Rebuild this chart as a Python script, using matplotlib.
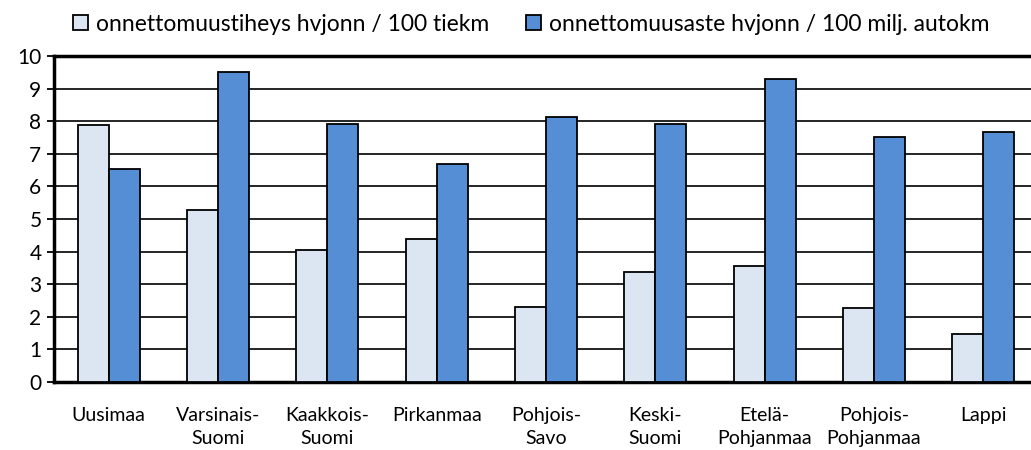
import matplotlib.pyplot as plt
import numpy as np

regions = ["Uusimaa", "Varsinais-\nSuomi", "Kaakkois-\nSuomi", "Pirkanmaa", "Pohjois-\nSavo",
           "Keski-\nSuomi", "Etelä-\nPohjanmaa", "Pohjois-\nPohjanmaa", "Lappi"]
tiheys = [7.87, 5.27, 4.04, 4.39, 2.30, 3.37, 3.57, 2.26, 1.48]
aste = [6.54, 9.50, 7.91, 6.70, 8.12, 7.91, 9.29, 7.52, 7.67]
labels = ["onnettomuustiheys hvjonn / 100 tiekm", "onnettomuusaste hvjonn / 100 milj. autokm"]

plt.rcParams['font.family'] = ['Lato', 'DejaVu Sans']

fig = plt.figure(figsize=(10.31, 4.5), dpi=100)
ax = fig.add_axes([54 / 1031, 1 - 382 / 450, 984 / 1031, 326 / 450])

x = np.arange(len(regions))
w = 0.285
ax.bar(x - w / 2, tiheys, w, color="#DCE6F2", edgecolor="black", linewidth=1.3,
       label=labels[0], zorder=3)
ax.bar(x + w / 2, aste, w, color="#558ED5", edgecolor="black", linewidth=1.3,
       label=labels[1], zorder=3)

ax.set_xlim(-0.5, len(regions) - 0.5)
ax.set_ylim(0, 10)
ax.set_yticks(range(0, 11))
ax.set_xticks(x)
ax.set_xticklabels(regions, fontsize=14, linespacing=1.45)
ax.tick_params(axis="y", labelsize=15, length=5, width=1.3, pad=4)
ax.tick_params(axis="x", length=0, pad=18)
ax.yaxis.grid(True, color="black", linewidth=1.2, zorder=0)
ax.set_axisbelow(True)

for s in ["left", "bottom", "top"]:
    ax.spines[s].set_linewidth(2.5)
ax.spines["right"].set_visible(False)

fig.legend(loc="upper center", bbox_to_anchor=(0.515, 1.015), ncol=2, frameon=False,
           fontsize=16.5, handlelength=0.65, handleheight=0.65, handletextpad=0.35,
           columnspacing=1.6)

fig.savefig("out.png", dpi=100)
